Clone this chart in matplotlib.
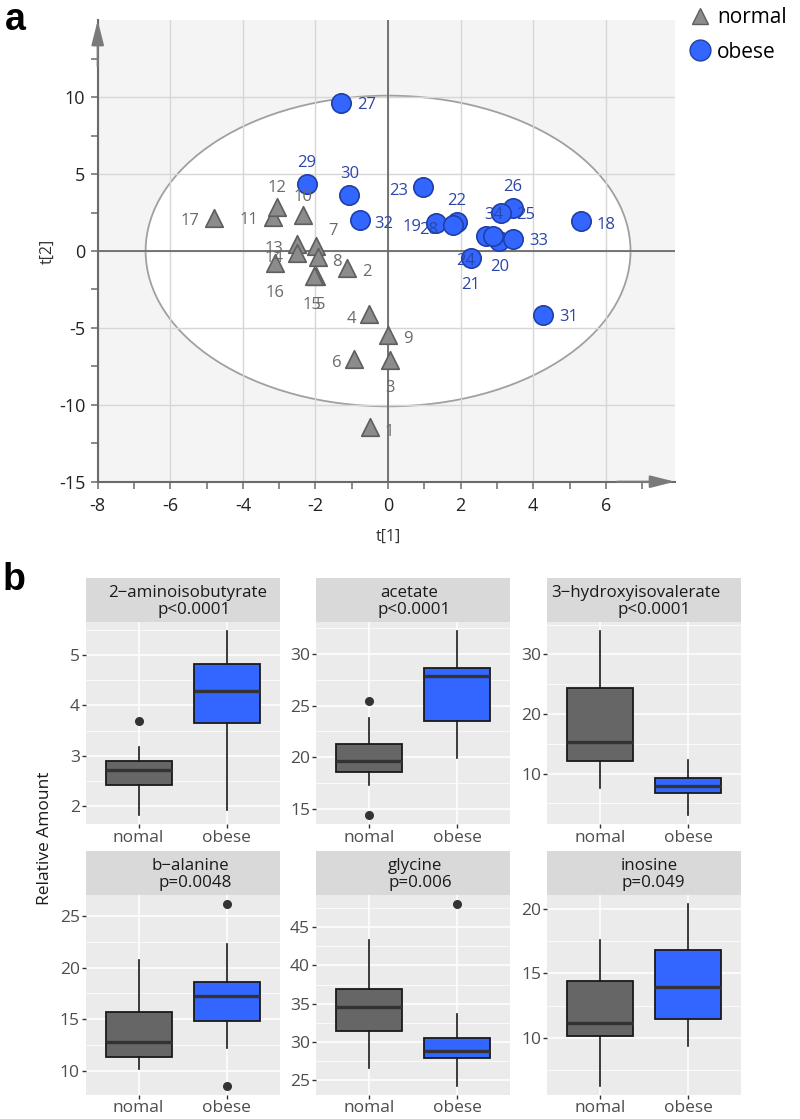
import numpy as np
import matplotlib.pyplot as plt
from matplotlib.patches import Ellipse, Rectangle
from matplotlib.lines import Line2D

plt.rcParams['font.family'] = ['Open Sans', 'DejaVu Sans']
plt.rcParams['axes.unicode_minus'] = False

# ---------------- panel a : scores plot ----------------
normal_ids = list(range(1, 18))
normal_t1 = [-0.51, -1.12, 0.04, -0.52, -1.98, -0.95, -1.99, -1.94, 0.01,
             -2.33, -3.16, -3.07, -2.52, -2.52, -2.05, -3.11, -4.79]
normal_t2 = [-11.46, -1.12, -7.09, -4.12, -1.65, -7.02, 0.32, -0.37, -5.46,
             2.32, 2.2, 2.86, 0.45, -0.15, -1.6, -0.75, 2.15]

obese_ids = list(range(18, 35))
obese_t1 = [5.32, 1.32, 3.07, 2.28, 1.89, 0.96, 2.70, 2.90, 3.43,
            -1.29, 1.78, -2.24, -1.08, 4.28, -0.77, 3.45, 3.10]
obese_t2 = [1.95, 1.83, 0.67, -0.47, 1.91, 4.15, 0.99, 0.97, 2.78,
            9.6, 1.69, 4.37, 3.66, -4.16, 2.04, 0.78, 2.49]

# Hotelling ellipse semi axes
ell_a = 6.68
ell_b = 10.1

# where each point label sits, in pixels from the point
label_offsets = {
    1: (20, -3), 2: (19, -2), 3: (0, -26), 4: (-18, -3), 5: (4, -27),
    6: (-17, -2), 7: (17, 17), 8: (19, -3), 9: (19, -2), 10: (0, 20),
    11: (-24, -1), 12: (0, 21), 13: (-23, -3), 14: (-23, -3), 15: (-2, -27),
    16: (0, -28), 17: (-24, -1),
    18: (25, -2), 19: (-24, -2), 20: (0, -24), 21: (0, -25), 22: (0, 23),
    23: (-24, -2), 24: (-20, -23), 25: (32, 23), 26: (0, 23), 27: (25, 0),
    28: (-24, -3), 29: (0, 23), 30: (1, 23), 31: (25, 0), 32: (24, -2),
    33: (25, 0), 34: (-7, 0),
}

# ---------------- panel b : boxplots ----------------
metabolites = ['2\u2212aminoisobutyrate', 'acetate', '3\u2212hydroxyisovalerate',
               'b\u2212alanine', 'glycine', 'inosine']
pvalues = ['p<0.0001', 'p<0.0001', 'p<0.0001', 'p=0.0048', 'p=0.006', 'p=0.049']
groups = ['nomal', 'obese']

nomal_q1 = [2.41, 18.54, 12.15, 11.31, 31.37, 10.13]
nomal_med = [2.71, 19.67, 15.34, 12.79, 34.52, 11.18]
nomal_q3 = [2.89, 21.26, 24.37, 15.69, 36.89, 14.38]
nomal_lo = [1.82, 17.3, 7.61, 10.16, 26.53, 6.28]
nomal_hi = [3.18, 23.8, 33.95, 20.74, 43.37, 17.59]
nomal_out = [[3.69], [25.47, 14.37], [], [], [], []]

obese_q1 = [3.65, 23.52, 6.77, 14.86, 27.91, 11.48]
obese_med = [4.29, 27.92, 7.95, 17.22, 28.78, 13.92]
obese_q3 = [4.82, 28.64, 9.29, 18.63, 30.54, 16.79]
obese_lo = [1.93, 19.9, 3.03, 12.17, 24.25, 9.36]
obese_hi = [5.48, 32.26, 12.27, 22.30, 33.65, 20.38]
obese_out = [[], [], [], [26.16, 8.53], [48.03], []]

yticks_b = [[2, 3, 4, 5], [15, 20, 25, 30], [10, 20, 30],
            [10, 15, 20, 25], [25, 30, 35, 40, 45], [10, 15, 20]]

# small horizontal nudges of the strip text lines (pixels)
strip_dx1 = [5, -4, -8, 8, 2, 5]
strip_dx2 = [11, 1, 10, 12, 7, 9]

W, H = 800, 1119
fig = plt.figure(figsize=(W / 100, H / 100), dpi=100)


def px_box(l, t, r, b):
    return [l / W, 1 - b / H, (r - l) / W, (b - t) / H]


# ---- panel a ----
ax = fig.add_axes(px_box(97.7, 20.3, 674.8, 481.7))
ax.set_facecolor('#f4f4f4')
ax.set_xlim(-8, 7.9)
ax.set_ylim(-15, 15)
ax.set_axisbelow(True)

ax.add_patch(Ellipse((0, 0), 2 * ell_a, 2 * ell_b, facecolor='white',
                     edgecolor='#a0a0a0', lw=1.3, zorder=0.3))

ax.set_xticks(np.arange(-8, 7, 2))
ax.set_xticks(np.arange(-7, 8, 2), minor=True)
ax.set_yticks(np.arange(-15, 11, 5))
ax.set_yticks(np.arange(-12.5, 13, 5), minor=True)
ax.tick_params(which='both', direction='out', length=5, width=1.1,
               color='#6b6b6b', labelsize=13, labelcolor='#222222')
ax.tick_params(axis='x', pad=6)
ax.tick_params(axis='y', pad=4)
ax.grid(True, which='major', color='#d6d6d6', lw=1)

for s in ['top', 'right']:
    ax.spines[s].set_visible(False)
for s in ['left', 'bottom']:
    ax.spines[s].set_color('#6b6b6b')
    ax.spines[s].set_linewidth(1.5)

ax.axhline(0, color='#6b6b6b', lw=1.3, zorder=1)
ax.axvline(0, color='#6b6b6b', lw=1.3, zorder=1)

arrow = dict(arrowstyle='-|>,head_length=1.5,head_width=0.38', color='#7a7a7a',
             lw=1.5, shrinkA=0, shrinkB=0, mutation_scale=10)
ax.annotate('', xy=(0, 1), xytext=(0, 0.9), xycoords='axes fraction',
            arrowprops=arrow, annotation_clip=False)
ax.annotate('', xy=(1, 0), xytext=(0.9, 0), xycoords='axes fraction',
            arrowprops=arrow, annotation_clip=False)

ax.scatter(normal_t1, normal_t2, marker='^', s=160, c='#8c8c8c',
           edgecolors='#5e5e5e', linewidths=1.2, zorder=3)
ax.scatter(obese_t1, obese_t2, marker='o', s=195, c='#3366ff',
           edgecolors='#2040a8', linewidths=1.2, zorder=4)

for ids, xs, ys, col in [(normal_ids, normal_t1, normal_t2, '#6a6a6a'),
                         (obese_ids, obese_t1, obese_t2, '#2b46a8')]:
    for i, x, y in zip(ids, xs, ys):
        ax.annotate(str(i), (x, y), xytext=label_offsets[i],
                    textcoords='offset pixels', ha='center',
                    va='center_baseline', fontsize=12, color=col, zorder=5)

fig.text(388 / W, 1 - 537 / H, 't[1]', ha='center', va='center',
         fontsize=11.5, color='#333333')
fig.text(48 / W, 1 - 251 / H, 't[2]', ha='center', va='center',
         rotation=90, fontsize=11.5, color='#333333')

handles = [Line2D([], [], marker='^', ls='', ms=12, mfc='#8c8c8c', mec='#5e5e5e'),
           Line2D([], [], marker='o', ms=15, ls='', mfc='#3366ff', mec='#2040a8')]
fig.legend(handles, ['normal', 'obese'], loc='upper left',
           bbox_to_anchor=(690 / W, 1 - 7 / H), frameon=False, fontsize=15,
           handletextpad=0.3, labelspacing=0.65, handlelength=1.0,
           borderpad=0, borderaxespad=0)

fig.text(5 / W, 1 - 2 / H, 'a', ha='left', va='top', fontsize=27,
         fontweight='bold', family='Liberation Sans')
fig.text(3 / W, 1 - 562 / H, 'b', ha='left', va='top', fontsize=27,
         fontweight='bold', family='Liberation Sans')

# ---- panel b ----
col_left = [85.7, 316, 547.3]
panel_w = 194
rows = [(578.3, 621.7, 824.3), (851, 895, 1095)]
fills = ['#666666', '#3366ff']

for k in range(6):
    r, c = divmod(k, 3)
    st, pt, pb = rows[r]
    l = col_left[c]
    axb = fig.add_axes(px_box(l, pt, l + panel_w, pb))
    axb.set_facecolor('#ebebeb')
    axb.set_axisbelow(True)

    stats = [
        dict(med=nomal_med[k], q1=nomal_q1[k], q3=nomal_q3[k],
             whislo=nomal_lo[k], whishi=nomal_hi[k], fliers=nomal_out[k]),
        dict(med=obese_med[k], q1=obese_q1[k], q3=obese_q3[k],
             whislo=obese_lo[k], whishi=obese_hi[k], fliers=obese_out[k]),
    ]
    bp = axb.bxp(stats, positions=[1, 2], widths=0.75, patch_artist=True,
                 showcaps=False,
                 boxprops=dict(lw=1.3, edgecolor='#1a1a1a'),
                 medianprops=dict(color='#333333', lw=2.4),
                 whiskerprops=dict(color='#1a1a1a', lw=1.2),
                 flierprops=dict(marker='o', ms=5.5, mfc='#333333',
                                 mec='#333333'))
    for patch, f in zip(bp['boxes'], fills):
        patch.set_facecolor(f)

    vals = [nomal_lo[k], nomal_hi[k], obese_lo[k], obese_hi[k]] + nomal_out[k] + obese_out[k]
    lo, hi = min(vals), max(vals)
    pad = 0.05 * (hi - lo)
    axb.set_ylim(lo - pad, hi + pad)
    axb.set_xlim(0.4, 2.6)

    ticks = yticks_b[k]
    step = ticks[1] - ticks[0]
    minors = [t - step / 2 for t in ticks] + [ticks[-1] + step / 2]
    minors = [m for m in minors if lo - pad < m < hi + pad]
    axb.set_yticks(ticks)
    axb.set_yticks(minors, minor=True)
    axb.set_xticks([1, 2])
    axb.set_xticklabels(groups)
    axb.grid(True, which='major', color='white', lw=1.1)
    axb.grid(True, which='minor', axis='y', color='white', lw=0.55)
    axb.tick_params(which='major', length=2.75, width=1, color='#333333',
                    labelcolor='#4d4d4d', labelsize=12.5, pad=1.5)
    axb.tick_params(axis='x', labelsize=12.5, pad=1)
    axb.tick_params(which='minor', length=0)
    for s in axb.spines.values():
        s.set_visible(False)

    strip_h = (pt - st) / (pb - pt)
    axb.add_patch(Rectangle((0, 1), 1, strip_h, transform=axb.transAxes,
                            facecolor='#d9d9d9', edgecolor='none',
                            clip_on=False))
    cx = l + panel_w / 2
    fig.text((cx + strip_dx1[k]) / W, 1 - (st + 15) / H, metabolites[k],
             ha='center', va='center', fontsize=12.2, color='#1a1a1a')
    fig.text((cx + strip_dx2[k]) / W, 1 - (st + 32) / H, pvalues[k],
             ha='center', va='center', fontsize=12.2, color='#1a1a1a')

fig.text(45 / W, 1 - 838 / H, 'Relative Amount', rotation=90, ha='center',
         va='center', fontsize=12.5, color='#1a1a1a')

fig.savefig('out.png', dpi=100)
